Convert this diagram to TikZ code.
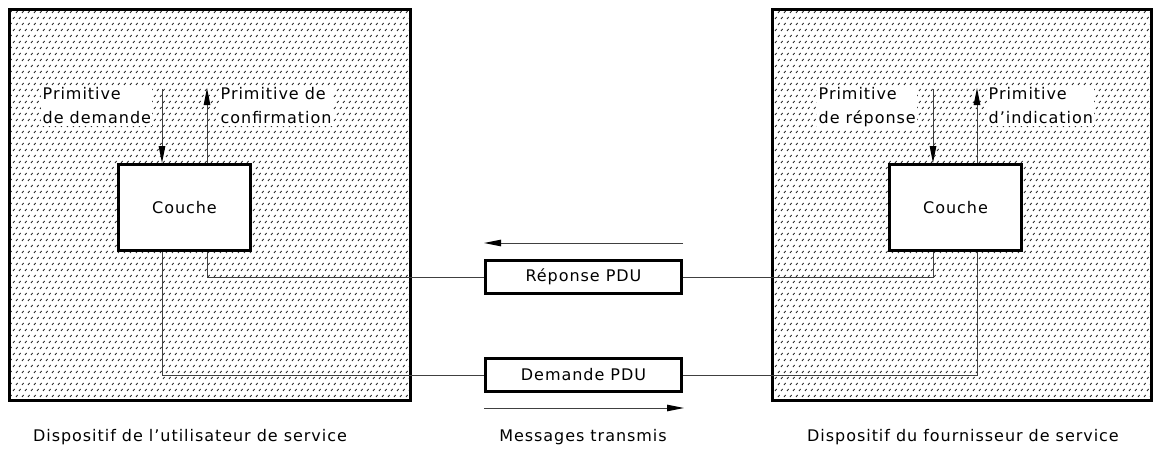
\documentclass[tikz,border=0pt]{standalone}
\usepackage{fontspec}
\setmainfont{DejaVu Sans}[LetterSpace=6]
\usetikzlibrary{arrows.meta,patterns}
\pgfdeclarepatternformonly{slashdots}{\pgfqpoint{-1pt}{-1pt}}{\pgfqpoint{7pt}{13pt}}{\pgfqpoint{6pt}{12pt}}{%
  \pgfsetlinewidth{0.8pt}%
  \pgfpathmoveto{\pgfqpoint{1pt}{1pt}}\pgfpathlineto{\pgfqpoint{2.6pt}{3pt}}%
  \pgfpathmoveto{\pgfqpoint{4pt}{7pt}}\pgfpathlineto{\pgfqpoint{5.6pt}{9pt}}%
  \pgfusepath{stroke}}
\tikzset{
  txt/.style={font=\fontsize{16}{24}\selectfont},
  device/.style={line width=3pt, pattern=slashdots, pattern color=black!90},
  couche/.style={draw, line width=3pt, fill=white, minimum width=132pt, minimum height=86pt, inner sep=0pt, txt},
  pdu/.style={draw, line width=3pt, fill=white, minimum width=196pt, minimum height=33pt, inner sep=0pt, txt},
  prim/.style={fill=white, inner sep=1.5pt, anchor=north west, align=left, txt},
  caption/.style={inner sep=0pt, txt},
  conn/.style={line width=1pt, black!75},
  arr/.style={line width=1pt, black!75, -{Triangle[length=17pt,width=6.5pt,fill=black,color=black]}},
}
\begin{document}
\begin{tikzpicture}[x=1pt,y=-1pt]
\useasboundingbox (0,0) rectangle (1154,452);
% devices
\filldraw[device] (9.5,9.5) rectangle (410.5,400.5);
\filldraw[device] (772.5,9.5) rectangle (1151.5,400.5);
% layer boxes
\node[couche] (cl) at (184.5,207.5) {Couche};
\node[couche] (cr) at (955.5,207.5) {Couche};
% primitive labels
\node[prim] (p1) at (41,86) {Primitive\\de demande};
\node[prim] (p2) at (219,86) {Primitive de\\confirmation};
\node[prim] (p3) at (817,86) {Primitive\\de réponse};
\node[prim] (p4) at (987,86) {Primitive\\d’indication};
% arrow ends
\coordinate (ldn) at (162,89);
\coordinate (lup) at (207,88);
\coordinate (rdn) at (933,89);
\coordinate (rup) at (977,88);
\draw[arr] (ldn) -- (ldn |- cl.north);
\draw[arr] (lup |- cl.north) -- (lup);
\draw[arr] (rdn) -- (rdn |- cr.north);
\draw[arr] (rup |- cr.north) -- (rup);
% PDUs
\node[pdu] (rep) at (583.5,277) {Réponse PDU};
\node[pdu] (dem) at (583.5,375) {Demande PDU};
% connections
\draw[conn] (lup |- cl.south) |- (rep.west);
\draw[conn] (ldn |- cl.south) |- (dem.west);
\draw[conn] (rep.east) -| (rdn |- cr.south);
\draw[conn] (dem.east) -| (rup |- cr.south);
% message direction arrows
\coordinate (mtop) at (484,243);
\coordinate (mbot) at (684,408);
\draw[arr] (rep.east |- mtop) -- (mtop);
\draw[arr] (rep.west |- mbot) -- (mbot);
% captions
\node[caption] (c1) at (190,437) {Dispositif de l’utilisateur de service};
\node[caption] (c2) at (583,437) {Messages transmis};
\node[caption] (c3) at (963,437) {Dispositif du fournisseur de service};
\end{tikzpicture}
\end{document}
